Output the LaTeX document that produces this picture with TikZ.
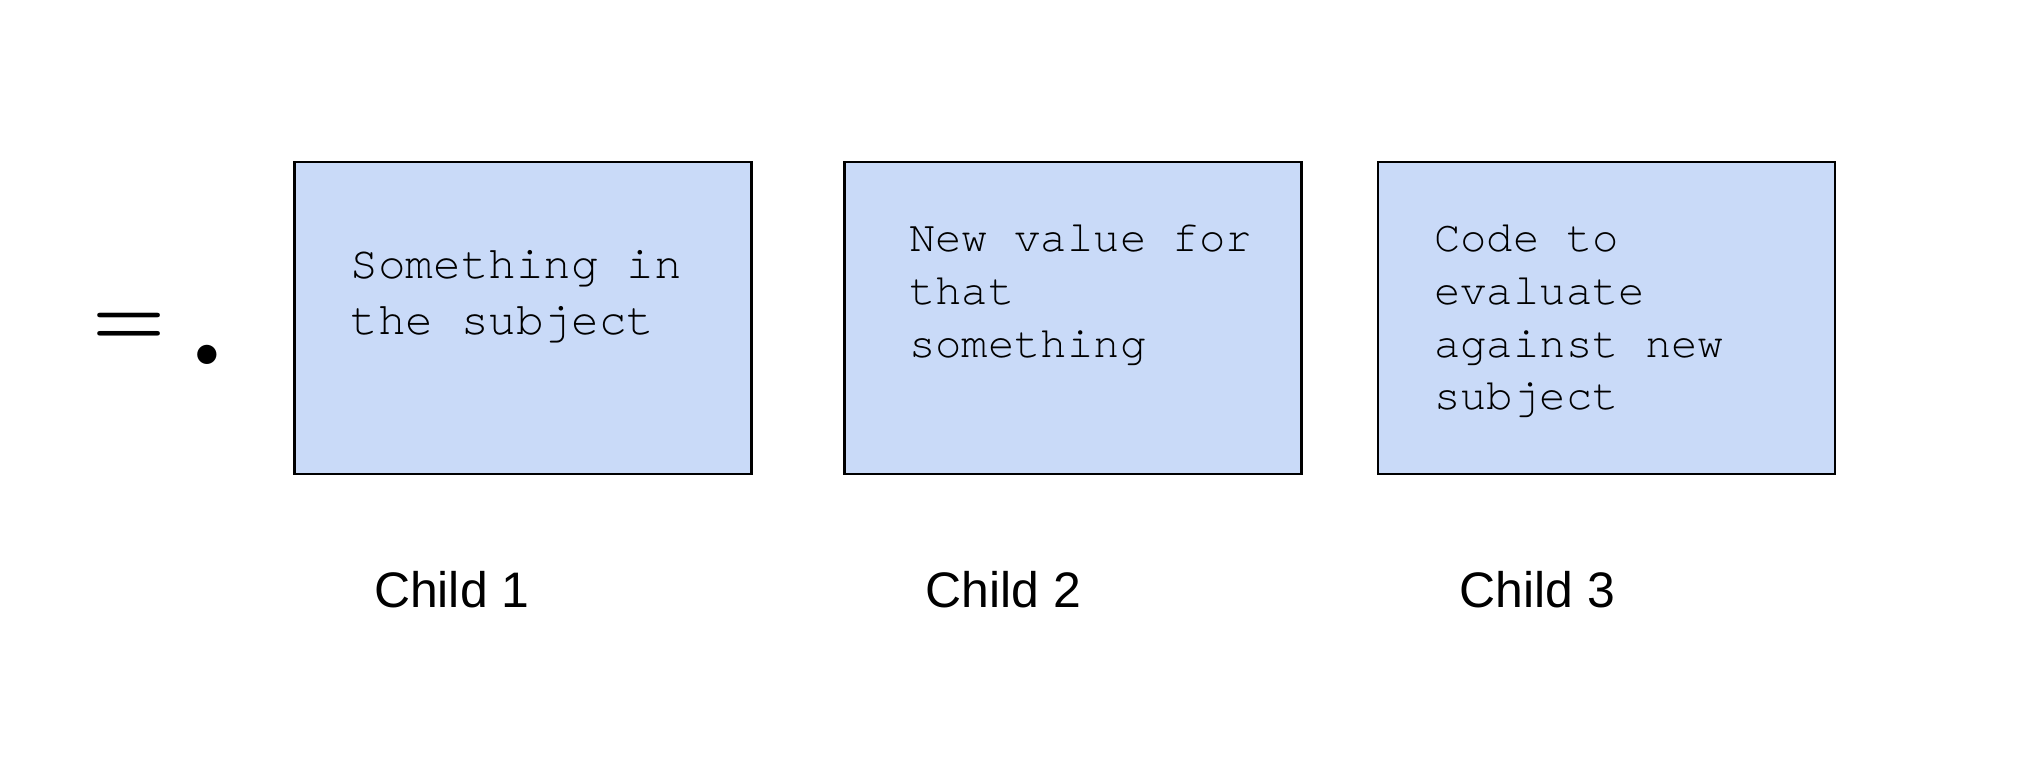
\documentclass[tikz,border=0pt]{standalone}
\usepackage{fontspec}
\setmainfont{Liberation Sans}
\newfontfamily\codefont{TeX Gyre Cursor}
\newfontfamily\runefont{Latin Modern Roman}
\usepackage{tikz}
\usetikzlibrary{positioning}
\definecolor{boxblue}{HTML}{C9DAF8}

\begin{document}
\begin{tikzpicture}[child box/.style={rectangle, draw, fill=boxblue, line width=0.8pt,
    minimum width=4.57cm, minimum height=3.12cm, inner sep=0pt},
  code text/.style={anchor=north west, align=left, inner sep=0pt,
    font=\codefont\fontsize{12.5}{15}\selectfont},
  child label/.style={anchor=base west, inner sep=0pt, font=\fontsize{14.2}{17}\selectfont}]

\useasboundingbox (0,0) rectangle (20.36,-7.72);

\node[inner sep=0pt, anchor=base west] (rune) at (0.914,-3.65)
  {\runefont\bfseries\fontsize{23.8}{26}\selectfont\raisebox{5.5pt}{=}\hspace{0.215cm}{\fontsize{38}{40}\selectfont.}};

\node[child box] (box1) at (5.228,-3.18) {};
\node[child box, right=0.907cm of box1] (box2) {};
\node[child box, right=0.733cm of box2] (box3) {};

\node[code text, font=\codefont\fontsize{13.1}{16.1}\selectfont] (text1)
  at ([shift={(0.57,-0.89)}]box1.north west) {Something in\\the subject};
\node[code text] (text2) at ([shift={(0.65,-0.64)}]box2.north west) {New value for\\that\\something};
\node[code text] (text3) at ([shift={(0.57,-0.64)}]box3.north west) {Code to\\evaluate\\against new\\subject};

\node[child label] (child1) at ([shift={(0.805,-1.32)}]box1.south west) {Child 1};
\node[child label] (child2) at ([shift={(0.815,-1.32)}]box2.south west) {Child 2};
\node[child label] (child3) at ([shift={(0.825,-1.32)}]box3.south west) {Child 3};
\end{tikzpicture}
\end{document}
